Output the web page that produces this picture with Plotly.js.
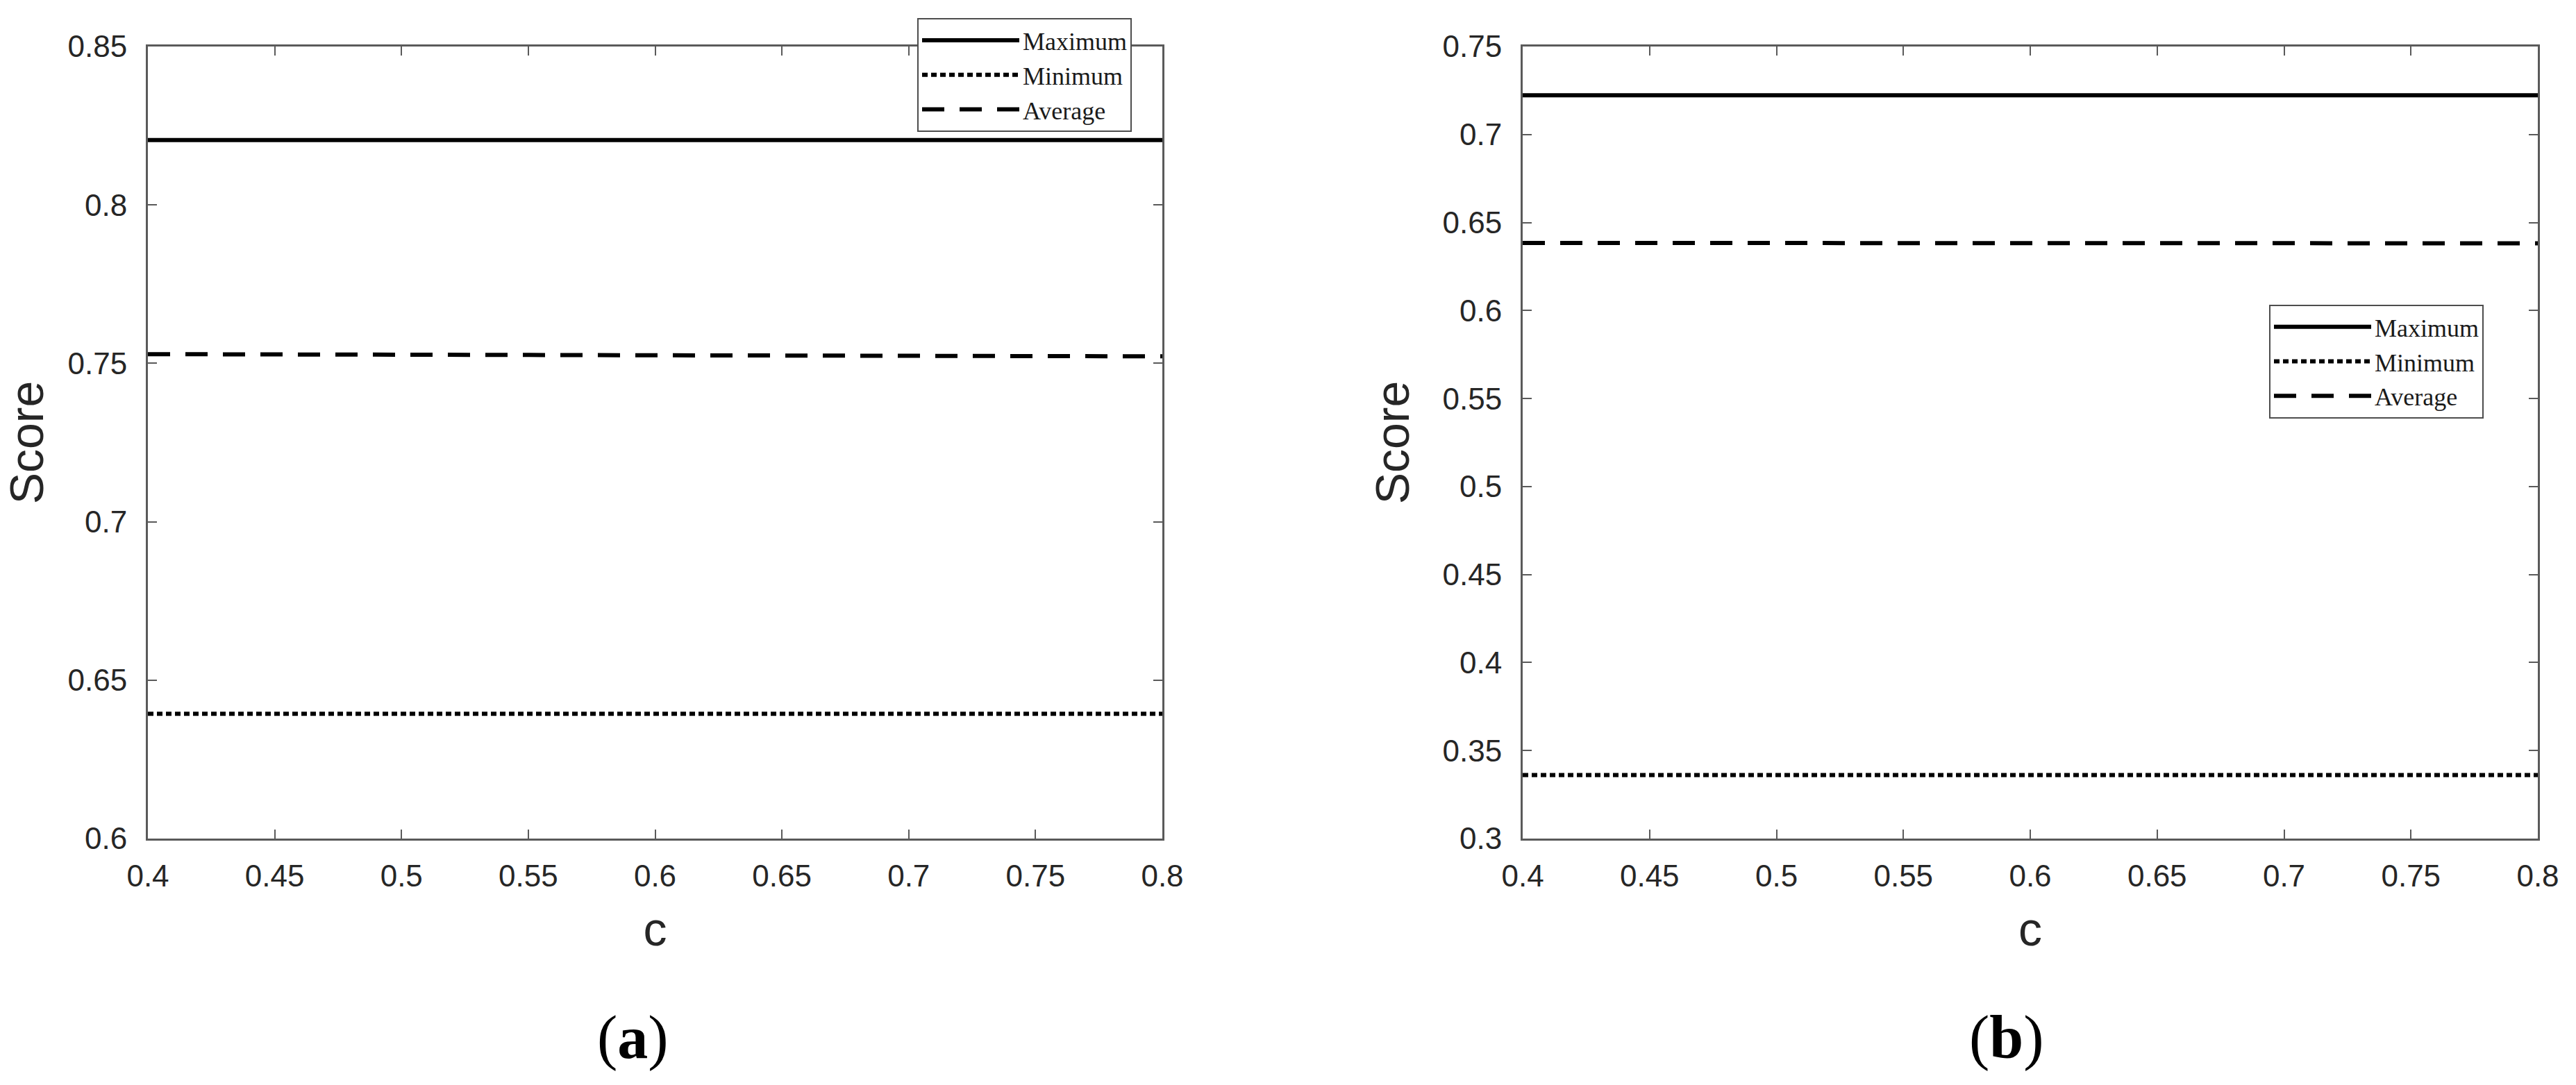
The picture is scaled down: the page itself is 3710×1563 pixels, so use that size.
<!DOCTYPE html>
<html>
<head>
<meta charset="utf-8">
<script src="https://cdn.plot.ly/plotly-3.0.1.min.js"></script>
<style>
  html, body { margin: 0; padding: 0; background: #ffffff; }
  #chart { width: 3710px; height: 1563px; }
</style>
</head>
<body>
<div id="chart"></div>
<script>
// ---- data ----
const cValues = [0.4, 0.45, 0.5, 0.55, 0.6, 0.65, 0.7, 0.75, 0.8];

// panel (a)
const aMaximum = [0.8205, 0.8205, 0.8205, 0.8205, 0.8205, 0.8205, 0.8205, 0.8205, 0.8205];
const aMinimum = [0.6394, 0.6394, 0.6394, 0.6394, 0.6394, 0.6394, 0.6394, 0.6394, 0.6394];
const aAverage = [0.7529, 0.7528, 0.7527, 0.7527, 0.7526, 0.7525, 0.7524, 0.7523, 0.7522];

// panel (b)
const bMaximum = [0.7223, 0.7223, 0.7223, 0.7223, 0.7223, 0.7223, 0.7223, 0.7223, 0.7223];
const bMinimum = [0.3361, 0.3361, 0.3361, 0.3361, 0.3361, 0.3361, 0.3361, 0.3361, 0.3361];
const bAverage = [0.6384, 0.6384, 0.6384, 0.6383, 0.6383, 0.6383, 0.6383, 0.6382, 0.6382];

const seriesNames = ["Maximum", "Minimum", "Average"];

const xTickVals = [0.4, 0.45, 0.5, 0.55, 0.6, 0.65, 0.7, 0.75, 0.8];
const xTickText = ["0.4", "0.45", "0.5", "0.55", "0.6", "0.65", "0.7", "0.75", "0.8"];
const aYTickVals = [0.6, 0.65, 0.7, 0.75, 0.8, 0.85];
const aYTickText = ["0.6", "0.65", "0.7", "0.75", "0.8", "0.85"];
const bYTickVals = [0.3, 0.35, 0.4, 0.45, 0.5, 0.55, 0.6, 0.65, 0.7, 0.75];
const bYTickText = ["0.3", "0.35", "0.4", "0.45", "0.5", "0.55", "0.6", "0.65", "0.7", "0.75"];

const xTitle = "c";
const yTitle = "Score";
const panelLabels = ["(<b>a</b>)", "(<b>b</b>)"];

// ---- styles ----
const LW = 6;
const styles = [
  { color: "#000000", width: LW, dash: "solid" },
  { color: "#000000", width: LW, dash: "8px,5px" },
  { color: "#000000", width: LW, dash: "32px,22px" }
];

function mk(y, i, xa, ya, leg) {
  return {
    x: cValues, y: y, type: "scatter", mode: "lines",
    name: seriesNames[i], xaxis: xa, yaxis: ya, legend: leg,
    line: styles[i], hoverinfo: "skip"
  };
}

const traces = [
  mk(aMaximum, 0, "x", "y", "legend"),
  mk(aMinimum, 1, "x", "y", "legend"),
  mk(aAverage, 2, "x", "y", "legend"),
  mk(bMaximum, 0, "x2", "y2", "legend2"),
  mk(bMinimum, 1, "x2", "y2", "legend2"),
  mk(bAverage, 2, "x2", "y2", "legend2")
];

const axisColor = "#5a5a5a";
const tickFont = { family: "Liberation Sans, Arial, sans-serif", size: 44, color: "#262626" };
const titleFont = { family: "Liberation Sans, Arial, sans-serif", size: 68, color: "#262626" };

function xAxis(domain, anchor) {
  return {
    domain: domain, anchor: anchor, range: [0.4, 0.8],
    tickmode: "array", tickvals: xTickVals, ticktext: xTickText,
    ticks: "inside", ticklen: 13, tickwidth: 2, tickcolor: axisColor,
    showline: true, linecolor: axisColor, linewidth: 3, mirror: "ticks",
    showgrid: false, zeroline: false, tickfont: tickFont,
    ticklabelstandoff: 13,
    title: { text: xTitle, font: titleFont, standoff: 30 }
  };
}
function yAxis(range, vals, text, anchor) {
  return {
    domain: [0, 1], anchor: anchor, range: range,
    tickmode: "array", tickvals: vals, ticktext: text,
    ticks: "inside", ticklen: 13, tickwidth: 2, tickcolor: axisColor,
    showline: true, linecolor: axisColor, linewidth: 3, mirror: "ticks",
    showgrid: false, zeroline: false, tickfont: tickFont,
    ticklabelstandoff: 18,
    title: { text: yTitle, font: titleFont, standoff: 26 }
  };
}

const legendBase = {
  font: { family: "Liberation Serif, Times New Roman, serif", size: 36, color: "#1a1a1a" },
  bgcolor: "#ffffff", bordercolor: "#4d4d4d", borderwidth: 2,
  xanchor: "left", yanchor: "top", itemwidth: 140, tracegroupgap: 0,
  traceorder: "normal"
};

const layout = {
  width: 3710, height: 1563,
  margin: { l: 213, r: 55, t: 67, b: 354.5, pad: 0 },
  paper_bgcolor: "#ffffff", plot_bgcolor: "#ffffff",
  showlegend: true,
  xaxis: xAxis([0, 0.42446], "y"),
  yaxis: yAxis([0.6, 0.85], aYTickVals, aYTickText, "x"),
  xaxis2: xAxis([0.57525, 1], "y2"),
  yaxis2: yAxis([0.3, 0.75], bYTickVals, bYTickText, "x2"),
  legend: Object.assign({}, legendBase, { x: 0.32191, y: 1.03592 }),
  legend2: Object.assign({}, legendBase, { x: 0.88757, y: 0.67411 }),
  annotations: [
    { text: panelLabels[0], xref: "paper", yref: "paper", x: 0.20279, y: -0.251,
      xanchor: "center", yanchor: "middle", showarrow: false,
      font: { family: "Liberation Serif, Times New Roman, serif", size: 88, color: "#000000" } },
    { text: panelLabels[1], xref: "paper", yref: "paper", x: 0.77775, y: -0.251,
      xanchor: "center", yanchor: "middle", showarrow: false,
      font: { family: "Liberation Serif, Times New Roman, serif", size: 88, color: "#000000" } }
  ]
};

Plotly.newPlot("chart", traces, layout, { staticPlot: true, displayModeBar: false });
</script>
</body>
</html>
